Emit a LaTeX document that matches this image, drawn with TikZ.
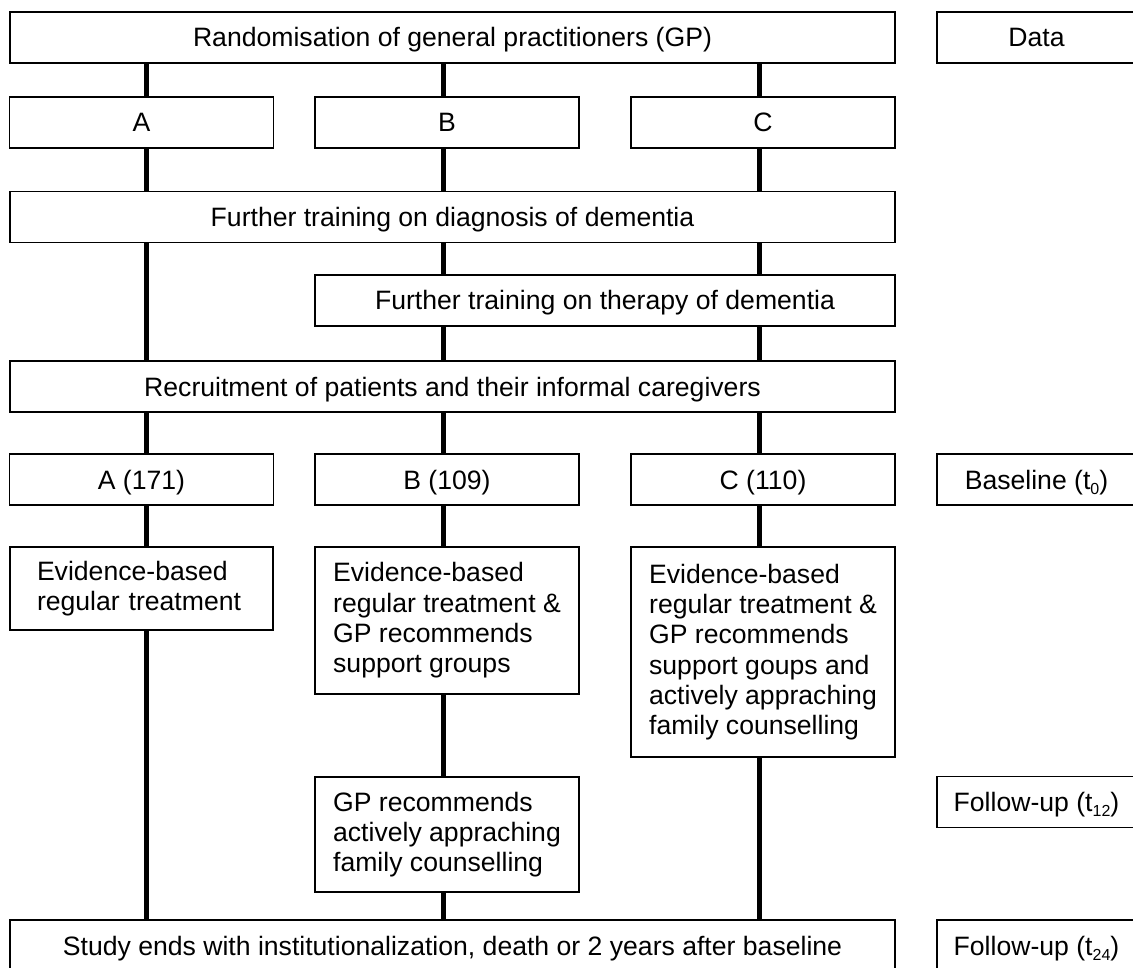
\documentclass[tikz,border=0pt]{standalone}
\usepackage{fontspec}
\setmainfont{Liberation Sans}
\newcommand\tsub[1]{\raisebox{-5pt}{\fontsize{16}{16}\selectfont #1}}
\begin{document}
\begin{tikzpicture}[x=1pt,y=-1pt,
  box/.style={draw=black, line width=1.3pt, rectangle, inner sep=0pt, font=\fontsize{26.6}{30.3}\selectfont},
  one/.style={box, text height=19pt, text depth=0pt, minimum height=51pt},
  multi/.style={box, align=left},
  wide/.style={minimum width=885pt},
  col/.style={minimum width=264pt},
  side/.style={minimum width=199pt},
  conn/.style={line width=5pt}]
\useasboundingbox (0,0) rectangle (1133,968);
% main column
\node[one, wide] (top) at (452.5,37.5) {Randomisation of general practitioners (GP)};
\node[one, side] (data) at (1036.5,37.5) {Data};
\node[one, col] (A) at (141.5,122.5) {A};
\node[one, col] (B) at (447,122.5) {B};
\node[one, col] (C) at (763,122.5) {C};
\node[one, wide] (diag) at (452.5,217) {Further training on diagnosis of dementia};
\node[one, minimum width=580pt] (ther) at (605,300.5) {Further training on therapy of dementia};
\node[one, wide] (recr) at (452.5,386.5) {Recruitment of patients and their informal caregivers};
\node[one, col] (An) at (141.5,479.5) {A (171)};
\node[one, col] (Bn) at (447,479.5) {B (109)};
\node[one, col] (Cn) at (763,479.5) {C (110)};
\node[one, side] (base) at (1036.5,479.5) {Baseline (t\tsub{0})};
\node[multi, text width=209pt, inner xsep=27pt, minimum height=83pt] (evA) at (141.5,588.5) {Evidence-based\\regular treatment};
\node[multi, col, minimum height=147pt] (evB) at (447,620.5) {Evidence-based\\regular treatment \&\\GP recommends\\support groups};
\node[multi, col, minimum height=210pt] (evC) at (763,652) {Evidence-based\\regular treatment \&\\GP recommends\\support goups and\\actively appraching\\family counselling};
\node[multi, col, minimum height=115pt] (gp) at (447,834.5) {GP recommends\\actively appraching\\family counselling};
\node[one, side] (fu12) at (1036.5,802) {Follow-up (t\tsub{12})};
\node[one, wide] (study) at (452.5,945.5) {Study ends with institutionalization, death or 2 years after baseline};
\node[one, side] (fu24) at (1036.5,945.5) {Follow-up (t\tsub{24})};
% connector columns
\coordinate (xa) at (146,0);
\coordinate (xb) at (443,0);
\coordinate (xc) at (759,0);
% A line
\draw[conn] (top.south -| xa) -- (A.north -| xa);
\draw[conn] (A.south -| xa) -- (diag.north -| xa);
\draw[conn] (diag.south -| xa) -- (recr.north -| xa);
\draw[conn] (recr.south -| xa) -- (An.north -| xa);
\draw[conn] (An.south -| xa) -- (evA.north -| xa);
\draw[conn] (evA.south -| xa) -- (study.north -| xa);
% B line
\draw[conn] (top.south -| xb) -- (B.north -| xb);
\draw[conn] (B.south -| xb) -- (diag.north -| xb);
\draw[conn] (diag.south -| xb) -- (ther.north -| xb);
\draw[conn] (ther.south -| xb) -- (recr.north -| xb);
\draw[conn] (recr.south -| xb) -- (Bn.north -| xb);
\draw[conn] (Bn.south -| xb) -- (evB.north -| xb);
\draw[conn] (evB.south -| xb) -- (gp.north -| xb);
\draw[conn] (gp.south -| xb) -- (study.north -| xb);
% C line
\draw[conn] (top.south -| xc) -- (C.north -| xc);
\draw[conn] (C.south -| xc) -- (diag.north -| xc);
\draw[conn] (diag.south -| xc) -- (ther.north -| xc);
\draw[conn] (ther.south -| xc) -- (recr.north -| xc);
\draw[conn] (recr.south -| xc) -- (Cn.north -| xc);
\draw[conn] (Cn.south -| xc) -- (evC.north -| xc);
\draw[conn] (evC.south -| xc) -- (study.north -| xc);
\end{tikzpicture}
\end{document}
